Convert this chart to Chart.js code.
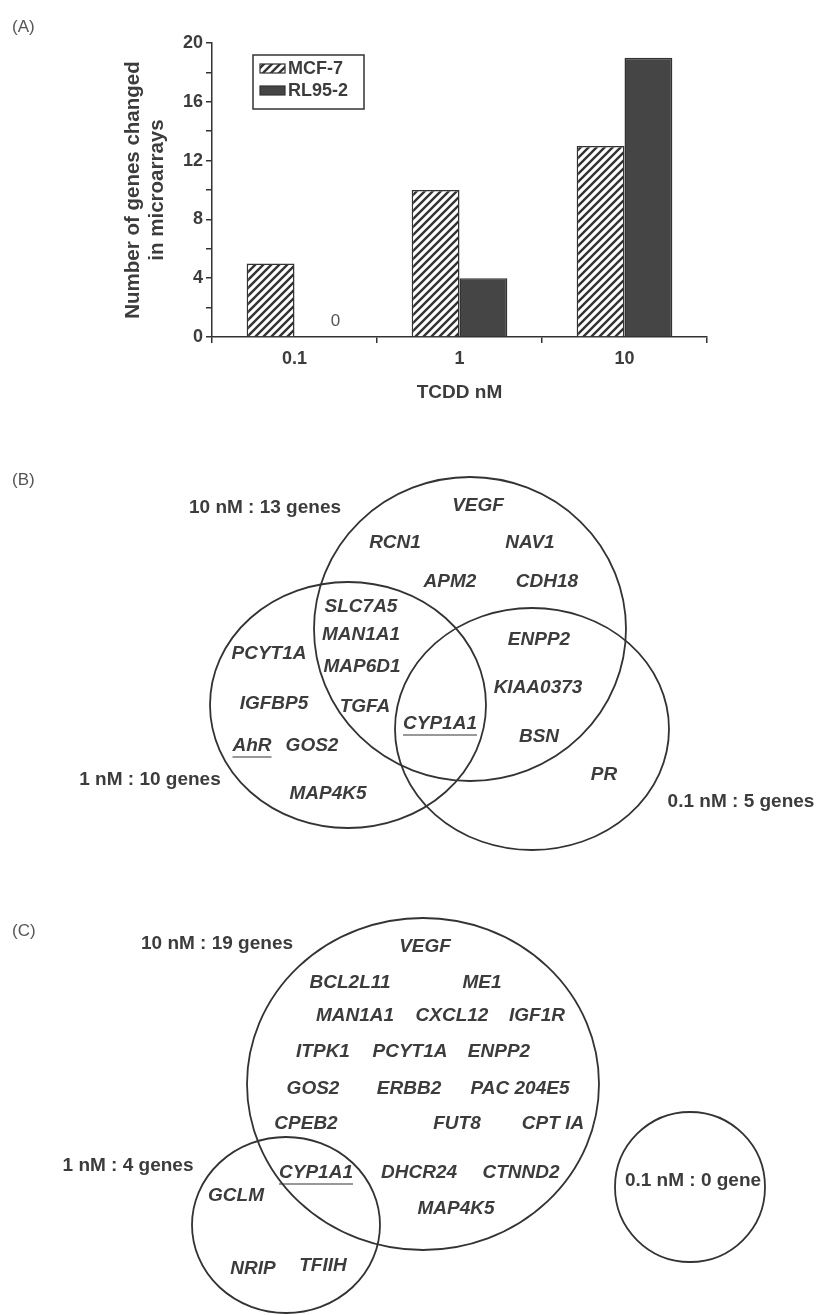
<!DOCTYPE html>
<html>
<head>
<meta charset="utf-8">
<script src="https://cdn.jsdelivr.net/npm/chart.js@4.4.1/dist/chart.umd.min.js"></script>
<style>
  html, body { margin: 0; padding: 0; background: #fff; }
  body { width: 821px; height: 1315px; position: relative; overflow: hidden; font-family: "Liberation Sans", Arial, sans-serif; }
  .panel { position: absolute; left: 0; width: 821px; }
  #wrapA { top: 0; height: 420px; }
  #wrapB { top: 440px; height: 430px; }
  #wrapC { top: 870px; height: 445px; }
  .tag { position: absolute; left: 12px; font-size: 17px; color: #555; line-height: 20px; }
</style>
</head>
<body>
<div class="panel" id="wrapA"><canvas id="chartA"></canvas></div>
<div class="panel" id="wrapB"><canvas id="chartB"></canvas></div>
<div class="panel" id="wrapC"><canvas id="chartC"></canvas></div>
<div class="tag" style="top:17px">(A)</div>
<div class="tag" style="top:470px">(B)</div>
<div class="tag" style="top:921px">(C)</div>

<script>
// ---- (A) genes changed per dose ----
const doses = ['0.1', '1', '10'];
const mcf7Counts = [5, 10, 13];
const rl952Counts = [0, 4, 19];
const yTickLabels = [0, 4, 8, 12, 16, 20];

// ---- (B) Venn MCF-7 (figure coordinates) ----
const vennBSetNames = ['10 nM : 13 genes', '1 nM : 10 genes', '0.1 nM : 5 genes'];
const vennBSetX = [265, 150, 741];
const vennBSetY = [508, 780, 802];
const vennBCircleX = [470, 348, 532];
const vennBCircleY = [629, 705, 729];
const vennBCircleRX = [156, 138, 137];
const vennBCircleRY = [152, 123, 121];
const vennBGenes = ['VEGF', 'RCN1', 'NAV1', 'APM2', 'CDH18', 'SLC7A5', 'MAN1A1', 'MAP6D1', 'PCYT1A',
  'IGFBP5', 'TGFA', 'CYP1A1', 'AhR', 'GOS2', 'MAP4K5', 'ENPP2', 'KIAA0373', 'BSN', 'PR'];
const vennBGeneX = [478, 395, 530, 450, 547, 361, 361, 362, 269, 274, 365, 440, 252, 312, 328, 539, 538, 539, 604];
const vennBGeneY = [506, 543, 543, 582, 582, 607, 635, 667, 654, 704, 707, 724, 746, 746, 794, 640, 688, 737, 775];
const vennBUnderlined = ['CYP1A1', 'AhR'];

// ---- (C) Venn RL95-2 ----
const vennCSetNames = ['10 nM : 19 genes', '1 nM : 4 genes', '0.1 nM : 0 gene'];
const vennCSetX = [217, 128, 693];
const vennCSetY = [944, 1166, 1181];
const vennCCircleX = [423, 286, 690];
const vennCCircleY = [1084, 1225, 1187];
const vennCCircleRX = [176, 94, 75];
const vennCCircleRY = [166, 88, 75];
const vennCGenes = ['VEGF', 'BCL2L11', 'ME1', 'MAN1A1', 'CXCL12', 'IGF1R', 'ITPK1', 'PCYT1A', 'ENPP2',
  'GOS2', 'ERBB2', 'PAC 204E5', 'CPEB2', 'FUT8', 'CPT IA', 'CYP1A1', 'DHCR24', 'CTNND2', 'MAP4K5',
  'GCLM', 'NRIP', 'TFIIH'];
const vennCGeneX = [425, 350, 482, 355, 452, 537, 323, 410, 499, 313, 409, 520, 306, 457, 553, 316, 419, 521, 456, 236, 253, 323];
const vennCGeneY = [947, 983, 983, 1016, 1016, 1016, 1052, 1052, 1052, 1089, 1089, 1089, 1124, 1124, 1124, 1173, 1173, 1173, 1209, 1196, 1269, 1266];
const vennCUnderlined = ['CYP1A1'];

const INK = '#3c3c3c';
const LINE = '#333';
const FONT = '"Liberation Sans", Arial, sans-serif';

// hachures obliques pour MCF-7
function makeHatch() {
    const c = document.createElement('canvas');
    c.width = 8; c.height = 8;
    const g = c.getContext('2d');
    g.fillStyle = '#fff';
    g.fillRect(0, 0, 8, 8);
    g.strokeStyle = LINE;
    g.lineWidth = 2.4;
    g.beginPath();
    g.moveTo(-2, 10); g.lineTo(10, -2);
    g.moveTo(-2, 2); g.lineTo(2, -2);
    g.moveTo(6, 10); g.lineTo(10, 6);
    g.stroke();
    return g.createPattern(c, 'repeat');
}

// legend box drawn inside the plot, top left
const boxLegend = {
    id: 'boxLegend',
    afterDraw(chart) {
        const { ctx, chartArea } = chart;
        const x0 = chartArea.left + 41, y0 = chartArea.top + 12;
        ctx.save();
        ctx.strokeStyle = LINE;
        ctx.lineWidth = 1.5;
        ctx.strokeRect(x0, y0, 111, 54);
        ctx.font = 'bold 18px ' + FONT;
        ctx.textBaseline = 'middle';
        ctx.fillStyle = INK;
        chart.data.datasets.forEach((ds, i) => {
            const sy = y0 + 9 + i * 22;
            ctx.fillStyle = ds.backgroundColor;
            ctx.fillRect(x0 + 7, sy, 25, 9);
            ctx.strokeStyle = LINE;
            ctx.lineWidth = 1.2;
            ctx.strokeRect(x0 + 7, sy, 25, 9);
            ctx.fillStyle = INK;
            ctx.fillText(ds.label, x0 + 35, sy + 5);
        });
        ctx.restore();
    }
};

// "0" written where the RL95-2 bar would be
const zeroLabel = {
    id: 'zeroLabel',
    afterDatasetsDraw(chart) {
        const { ctx, scales: { y } } = chart;
        const meta = chart.getDatasetMeta(1);
        ctx.save();
        ctx.font = '17px ' + FONT;
        ctx.fillStyle = '#555';
        ctx.textAlign = 'center';
        ctx.textBaseline = 'middle';
        rl952Counts.forEach((v, i) => {
            if (v === 0) ctx.fillText('0', meta.data[i].x + 17, y.getPixelForValue(1.1));
        });
        ctx.restore();
    }
};

new Chart(document.getElementById('chartA'), {
    type: 'bar',
    data: {
        labels: doses,
        datasets: [
            { label: 'MCF-7', data: mcf7Counts, backgroundColor: makeHatch(), borderColor: LINE,
              borderWidth: c => c.raw === 0 ? 0 : 1.5 },
            { label: 'RL95-2', data: rl952Counts, backgroundColor: '#454545', borderColor: LINE,
              borderWidth: c => c.raw === 0 ? 0 : 1.5 }
        ]
    },
    options: {
        responsive: true,
        maintainAspectRatio: false,
        animation: false,
        layout: { padding: { left: 121, top: 43, right: 114, bottom: 14 } },
        datasets: { bar: { categoryPercentage: 0.58, barPercentage: 1.0 } },
        plugins: { legend: { display: false }, tooltip: { enabled: false } },
        scales: {
            x: {
                grid: { offset: true, drawOnChartArea: false, tickLength: 6, color: LINE, lineWidth: 1.5 },
                border: { color: LINE, width: 1.5 },
                ticks: { color: INK, padding: 5, font: { family: FONT, size: 18, weight: 'bold' } },
                title: { display: true, text: 'TCDD nM', color: INK, padding: { top: 0, bottom: 2 },
                         font: { family: FONT, size: 19, weight: 'bold' } },
                afterFit: s => { s.height = 69; }
            },
            y: {
                min: 0, max: 20,
                grid: { drawOnChartArea: false, tickLength: 6, color: LINE, lineWidth: 1.5 },
                border: { color: LINE, width: 1.5 },
                ticks: { stepSize: 2, autoSkip: false, color: INK, padding: 3,
                         font: { family: FONT, size: 18, weight: 'bold' },
                         callback: v => yTickLabels.includes(v) ? v : '' },
                title: { display: true, text: ['Number of genes changed', 'in microarrays'], color: INK, padding: 0,
                         font: { family: FONT, size: 20.5, weight: 'bold', lineHeight: 1.17 } },
                afterFit: s => { s.width = 91; }
            }
        }
    },
    plugins: [boxLegend, zeroLabel]
});

// Venn: ellipses + gene names placed through the scales
const vennDraw = {
    id: 'vennDraw',
    afterDatasetsDraw(chart, args, opts) {
        const { ctx, scales: { x, y } } = chart;
        ctx.save();
        ctx.strokeStyle = LINE;
        ctx.lineWidth = 1.8;
        opts.cx.forEach((cx, i) => {
            const px = x.getPixelForValue(cx), py = y.getPixelForValue(opts.cy[i]);
            const rx = Math.abs(x.getPixelForValue(cx + opts.rx[i]) - px);
            const ry = Math.abs(y.getPixelForValue(opts.cy[i] + opts.ry[i]) - py);
            ctx.beginPath();
            ctx.ellipse(px, py, rx, ry, 0, 0, Math.PI * 2);
            ctx.stroke();
        });
        ctx.fillStyle = INK;
        ctx.textAlign = 'center';
        ctx.textBaseline = 'middle';
        chart.data.datasets.forEach((ds, k) => {
            ctx.font = ds.italic ? 'italic bold 19px ' + FONT : 'bold 19px ' + FONT;
            chart.getDatasetMeta(k).data.forEach((pt, i) => {
                const name = ds.names[i];
                ctx.fillText(name, pt.x, pt.y);
                if (opts.underlined.includes(name) && ds.italic) {
                    const w = ctx.measureText(name).width;
                    ctx.lineWidth = 1.2;
                    ctx.beginPath();
                    ctx.moveTo(pt.x - w / 2, pt.y + 11);
                    ctx.lineTo(pt.x + w / 2, pt.y + 11);
                    ctx.stroke();
                }
            });
        });
        ctx.restore();
    }
};

function vennChart(id, top, height, genes, gx, gy, sets, sx, sy, circ, underlined) {
    return new Chart(document.getElementById(id), {
        type: 'scatter',
        data: {
            datasets: [
                { names: genes, italic: true, data: gx.map((v, i) => ({ x: v, y: gy[i] })), pointRadius: 0 },
                { names: sets, italic: false, data: sx.map((v, i) => ({ x: v, y: sy[i] })), pointRadius: 0 }
            ]
        },
        options: {
            responsive: true,
            maintainAspectRatio: false,
            animation: false,
            events: [],
            layout: { padding: 0 },
            plugins: {
                legend: { display: false },
                tooltip: { enabled: false },
                vennDraw: { cx: circ[0], cy: circ[1], rx: circ[2], ry: circ[3], underlined: underlined }
            },
            scales: {
                x: { type: 'linear', display: false, min: 0, max: 821 },
                y: { type: 'linear', display: false, min: top, max: top + height, reverse: true }
            }
        },
        plugins: [vennDraw]
    });
}

vennChart('chartB', 440, 430, vennBGenes, vennBGeneX, vennBGeneY, vennBSetNames, vennBSetX, vennBSetY,
    [vennBCircleX, vennBCircleY, vennBCircleRX, vennBCircleRY], vennBUnderlined);
vennChart('chartC', 870, 445, vennCGenes, vennCGeneX, vennCGeneY, vennCSetNames, vennCSetX, vennCSetY,
    [vennCCircleX, vennCCircleY, vennCCircleRX, vennCCircleRY], vennCUnderlined);
</script>
</body>
</html>
